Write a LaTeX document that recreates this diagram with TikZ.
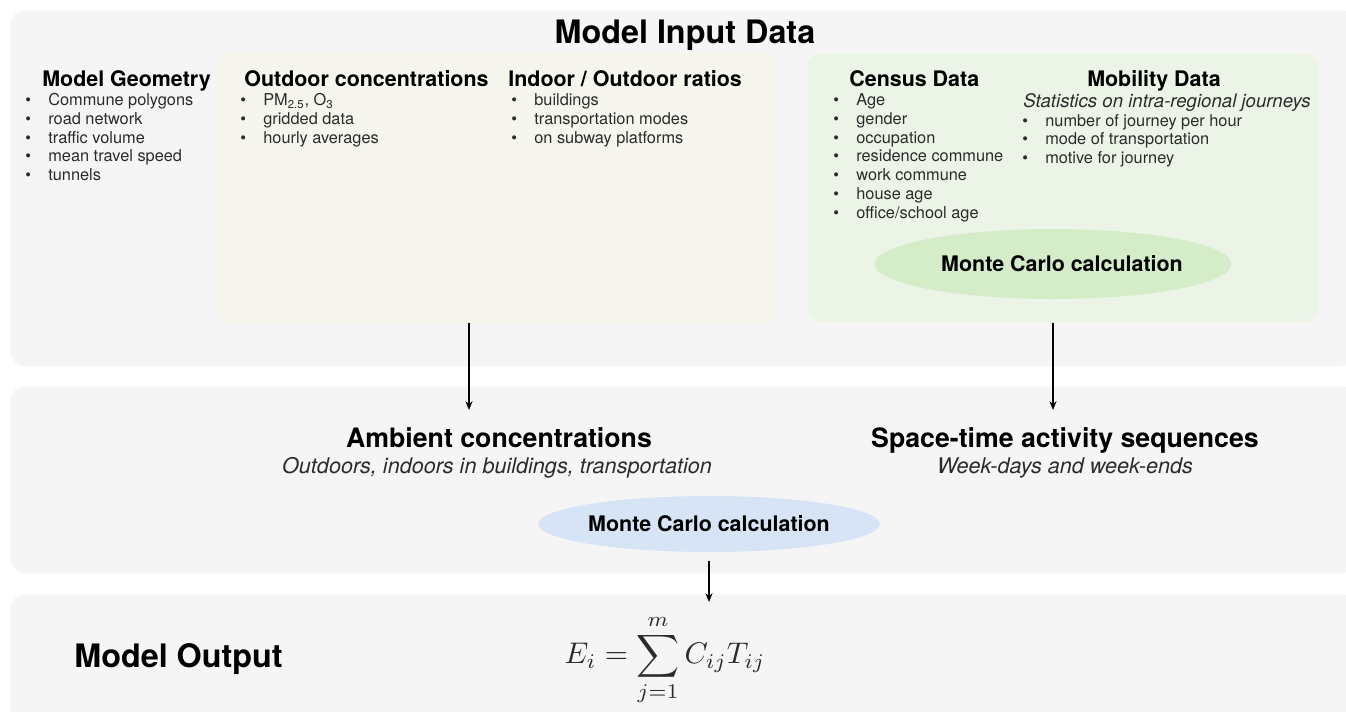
\documentclass[tikz,border=0pt]{standalone}
\usepackage[no-math]{fontspec}
\setsansfont{TeX Gyre Heros}
\usetikzlibrary{arrows.meta,positioning,shapes.geometric}

\definecolor{panelgray}{HTML}{F5F5F5}
\definecolor{beige}{HTML}{F6F6EF}
\definecolor{lightgreen}{HTML}{ECF4E8}
\definecolor{mcgreen}{HTML}{D4ECC8}
\definecolor{mcblue}{HTML}{D6E4F5}
\definecolor{bodytext}{HTML}{2B2B2B}

\newcommand{\bitem}[1]{\makebox[0.46cm][l]{\textbullet}#1}

\tikzset{
  panel/.style={fill=panelgray, rounded corners=0.3cm, anchor=north west, inner sep=0},
  inbox/.style={rounded corners=0.3cm, anchor=north west, inner sep=0, minimum height=5.38cm},
  mc/.style={ellipse, inner sep=0, font=\sffamily\bfseries\fontsize{12.2}{14}\selectfont},
  bigtitle/.style={anchor=base, inner sep=0, font=\sffamily\bfseries\fontsize{18.4}{22}\selectfont},
  head/.style={anchor=base west, inner sep=0, font=\sffamily\bfseries\fontsize{12.2}{14}\selectfont},
  itemlist/.style={anchor=base west, inner sep=0, align=left, text=bodytext, font=\sffamily\fontsize{9.3}{10.64}\selectfont},
  midhead/.style={anchor=base, inner sep=0, font=\sffamily\bfseries\fontsize{15.2}{18}\selectfont},
  midsub/.style={anchor=base, inner sep=0, text=bodytext, font=\sffamily\itshape\fontsize{12.3}{14}\selectfont},
  arr/.style={-{Stealth[length=5pt,width=4pt]}, line width=0.6pt}
}

\begin{document}
\begin{tikzpicture}[x=0.02cm,y=-0.02cm]
\clip (0,0) rectangle (1346,711);

% the three bands
\node[panel, minimum width=26.92cm, minimum height=7.12cm] (inpanel) at (10,10) {};
\node[panel, minimum width=26.92cm, minimum height=3.74cm] (midpanel) at (10,386) {};
\node[panel, minimum width=26.92cm, minimum height=2.6cm] (outpanel) at (10,594) {};

\node[inbox, fill=beige, minimum width=11.22cm] (obox) at (217,53) {};
\node[inbox, fill=lightgreen, minimum width=10.22cm] (cbox) at (807,53) {};

\node[bigtitle] (title) at (685,43) {Model Input Data};

% lists sit on the baseline of their last line
\node[head] (geohead) at (42,86) {Model Geometry};
\node[itemlist] (geolist) at (25,180.5) {\bitem{Commune polygons}\\ \bitem{road network}\\ \bitem{traffic volume}\\ \bitem{mean travel speed}\\ \bitem{tunnels}};

\node[head] (outhead) at (244,86) {Outdoor concentrations};
\node[itemlist] (outlist) at (240,143) {\bitem{PM\textsubscript{2.5}, O\textsubscript{3}}\\ \bitem{gridded data}\\ \bitem{hourly averages}};

\node[head] (iohead) at (508,86) {Indoor / Outdoor ratios};
\node[itemlist] (iolist) at (511,143) {\bitem{buildings}\\ \bitem{transportation modes}\\ \bitem{on subway platforms}};

\node[head] (cenhead) at (849,86) {Census Data};
\node[itemlist] (cenlist) at (833,218) {\bitem{Age}\\ \bitem{gender}\\ \bitem{occupation}\\ \bitem{residence commune}\\ \bitem{work commune}\\ \bitem{house age}\\ \bitem{office/school age}};

\node[head, anchor=base] (mobhead) at (1154,86) {Mobility Data};
\node[midsub, font=\sffamily\itshape\fontsize{10.6}{12}\selectfont] (mobsub) at (1167,107) {Statistics on intra-regional journeys};
\node[itemlist] (moblist) at (1022,163.5) {\bitem{number of journey per hour}\\ \bitem{mode of transportation}\\ \bitem{motive for journey}};

\node[mc, fill=mcgreen, minimum width=7.14cm, minimum height=1.4cm,
  label={[xshift=0.18cm, font=\sffamily\bfseries\fontsize{12.2}{14}\selectfont]center:Monte Carlo calculation}] (mcgreen) at (1053,264) {};

% middle band
\node[midhead] (amb) at (499,447) {Ambient concentrations};
\node[midsub] (ambsub) at (497,473) {Outdoors, indoors in buildings, transportation};
\node[midhead] (act) at (1065,447) {Space-time activity sequences};
\node[midsub] (actsub) at (1065,473) {Week-days and week-ends};

\node[mc, fill=mcblue, minimum width=6.18cm, minimum height=1.12cm] (mcblue) at (709,524) {Monte Carlo calculation};

% output band
\node[bigtitle, anchor=base west] (outtitle) at (74,667) {Model Output};
\node[text=bodytext, inner sep=0] (eq) at (665,660) {\scalebox{1.7}{$\displaystyle E_i=\sum_{j=1}^{m}C_{ij}T_{ij}$}};

\coordinate (tipamb) at (469,410);
\coordinate (tipact) at (1053,410);
\coordinate (tipeq) at (709,602);
\draw[arr] (obox.south -| tipamb) -- (tipamb);
\draw[arr] (cbox.south -| tipact) -- (tipact);
\draw[arr, shorten <=8\pgflinewidth] (mcblue.south) -- (tipeq);
\end{tikzpicture}
\end{document}
